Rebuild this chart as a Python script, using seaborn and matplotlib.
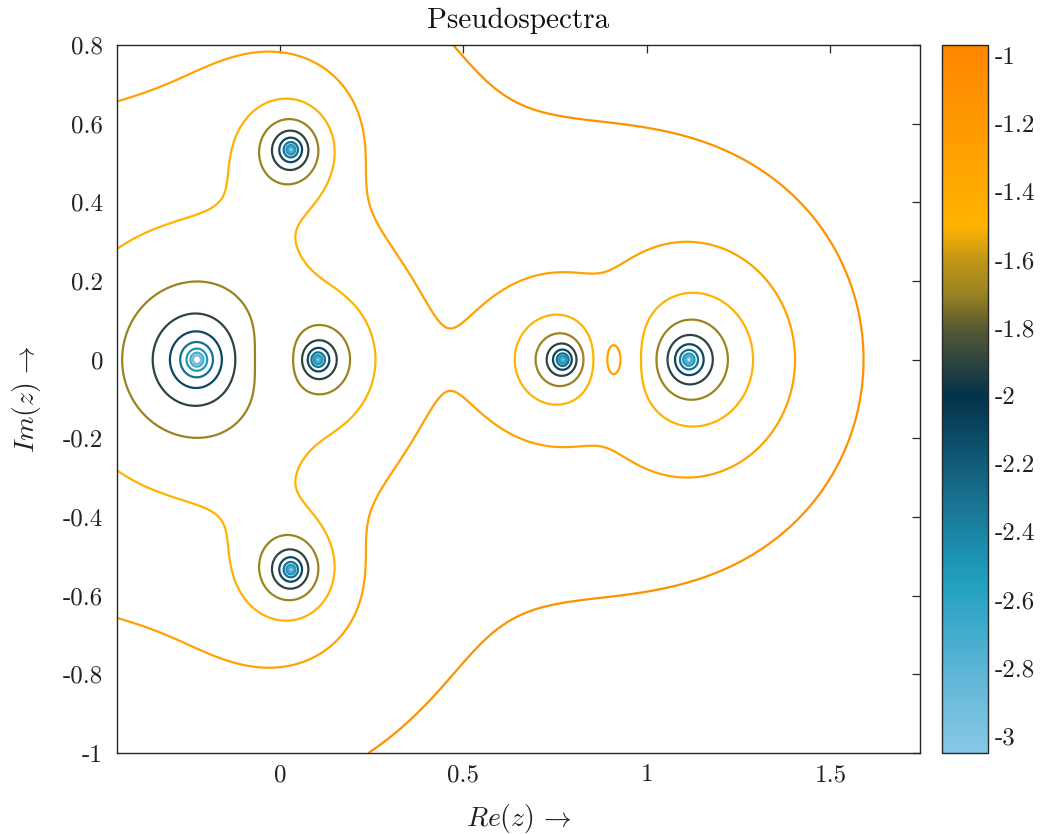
import numpy as np
import matplotlib
matplotlib.use('Agg')
import matplotlib.pyplot as plt
import seaborn as sns
from matplotlib.colors import LinearSegmentedColormap, Normalize
from matplotlib.cm import ScalarMappable

# ---------------- data ----------------
# real Schur form of the matrix whose pseudospectra are shown
# diagonal (eigenvalues; the 2x2 block at rows 4-5 carries the pair 0.03 +/- 0.534i)
diag = [-3.3422, -4.0916, -0.2260, 0.1035, 0.0300, 0.0300, 0.7710, 1.1140]
# strictly upper-triangular entries, row by row
upper_rows = [
    [-8.5046, -2.4291, -5.5637, -3.6179, 0.0256, -1.0553, -19.3693],
    [3.1699, 4.8713, 3.4794, -0.1742, 0.3102, 15.3531],
    [-0.3057, 0.1077, -1.0898, 0.1407, -0.3972],
    [-0.0018, -0.3956, 0.4749, -0.4126],
    [1.2445, -0.2296, -1.5826],
    [0.6985, 0.5374],
    [-0.2005],
    [],
]
block_sub = -0.2291          # entry (5, 4) of the 2x2 block

levels = [-2.9, -2.7, -2.5, -2.3, -2.1, -1.9, -1.7, -1.5, -1.3, -1.1]
cbar_ticks = [-1, -1.2, -1.4, -1.6, -1.8, -2, -2.2, -2.4, -2.6, -2.8, -3]
cbar_labels = ['-1', '-1.2', '-1.4', '-1.6', '-1.8', '-2', '-2.2', '-2.4', '-2.6', '-2.8', '-3']
x_ticks = [0, 0.5, 1, 1.5]
x_labels = ['0', '0.5', '1', '1.5']
y_ticks = [0.8, 0.6, 0.4, 0.2, 0, -0.2, -0.4, -0.6, -0.8, -1]
y_labels = ['0.8', '0.6', '0.4', '0.2', '0', '-0.2', '-0.4', '-0.6', '-0.8', '-1']
cmap_anchors = [(-3.05, '#88C8E6'), (-2.8, '#5AB4D4'), (-2.55, '#20A0C0'), (-2.3, '#18708F'),
                (-2.0, '#03324A'), (-1.9, '#2E4440'), (-1.8, '#585A33'), (-1.7, '#9A8222'),
                (-1.6, '#C29618'), (-1.5, '#FFB300'), (-1.3, '#FFA200'), (-0.97, '#FF8600')]
vmin, vmax = -3.05, -0.97
xlim = (-0.444, 1.744)
ylim = (-1.0, 0.8)

# ---------------- matrix & field ----------------
n = len(diag)
T = np.diag(diag)
for i, row in enumerate(upper_rows):
    for k, val in enumerate(row):
        T[i, i + 1 + k] = val
T[5, 4] = block_sub

xs = np.linspace(xlim[0], xlim[1], 460)
ys = np.linspace(ylim[0], ylim[1], 380)
X, Y = np.meshgrid(xs, ys)
ZZ = (X + 1j * Y).ravel()
sv = np.linalg.svd(ZZ[:, None, None] * np.eye(n) - T, compute_uv=False)[:, -1]
F = np.log10(sv).reshape(X.shape)

# ---------------- style ----------------
sns.set_theme(style='white')
plt.rcParams['font.family'] = ['cmr10', 'DejaVu Serif']
plt.rcParams['mathtext.fontset'] = 'cm'
plt.rcParams['axes.unicode_minus'] = False
plt.rcParams['axes.formatter.use_mathtext'] = True

cmap = LinearSegmentedColormap.from_list(
    'ps', [((a - vmin) / (vmax - vmin), c) for a, c in cmap_anchors])
norm = Normalize(vmin, vmax)

fig = plt.figure(figsize=(10.48, 8.34), dpi=100)
ax = fig.add_axes([117 / 1048, 1 - 753 / 834, (920 - 117) / 1048, (753 - 45) / 834])
cax = fig.add_axes([942 / 1048, 1 - 753 / 834, 46 / 1048, (753 - 45) / 834])

ax.contour(X, Y, F, levels=levels, cmap=cmap, norm=norm, linewidths=1.6)
ax.set_xlim(*xlim)
ax.set_ylim(*ylim)
ax.set_xticks(x_ticks)
ax.set_xticklabels(x_labels)
ax.set_yticks(y_ticks)
ax.set_yticklabels(y_labels)
ax.tick_params(direction='in', top=True, right=True, length=6, width=0.9,
               color='#262626', labelsize=18, labelcolor='#222222')
ax.tick_params(axis='x', pad=8)
ax.tick_params(axis='y', pad=10)
for sp in ax.spines.values():
    sp.set_color('#262626')
    sp.set_linewidth(1.0)
ax.set_xlabel(r'$Re(z)\,\rightarrow$', fontsize=20, color='#222222', labelpad=11)
ax.set_ylabel(r'$Im(z)\,\rightarrow$', fontsize=20, color='#222222', labelpad=14)
ax.set_title('Pseudospectra', fontsize=21, color='#111111', pad=12)

cb = fig.colorbar(ScalarMappable(norm=norm, cmap=cmap), cax=cax)
cb.set_ticks(cbar_ticks)
cb.set_ticklabels(cbar_labels)
cb.outline.set_edgecolor('#262626')
cb.outline.set_linewidth(1.0)
cax.tick_params(direction='in', length=6, width=0.9, color='#262626',
                labelsize=18, labelcolor='#222222', right=True, left=False, pad=5)

fig.savefig('out.png', dpi=100)
